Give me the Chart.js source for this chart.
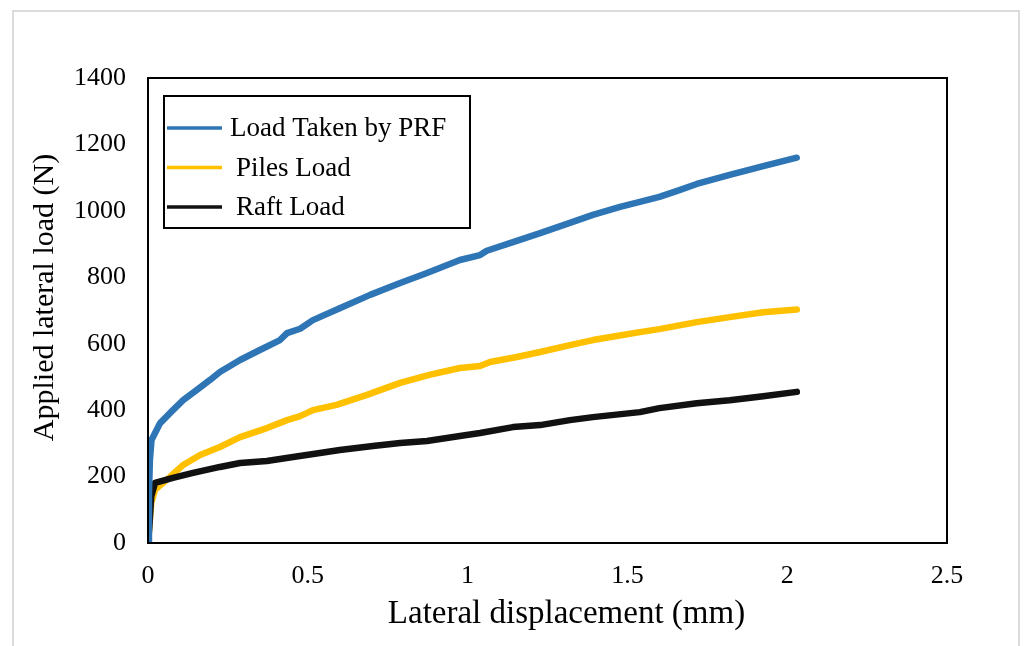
<!DOCTYPE html>
<html>
<head>
<meta charset="utf-8">
<script src="https://cdn.jsdelivr.net/npm/chart.js@4.4.0/dist/chart.umd.min.js"></script>
<style>
  html, body { margin: 0; padding: 0; background: #fff; overflow: hidden; }
  #frame { position: absolute; left: 12px; top: 10px; width: 1008px; height: 700px; border: 2px solid #dcdcdc; box-sizing: border-box; }
  #wrap { position: absolute; left: 0; top: 0; width: 1024px; height: 646px; }
</style>
</head>
<body>
<div id="frame"></div>
<div id="wrap"><canvas id="chart" width="1024" height="646"></canvas></div>
<script>
// --- Data ---
const seriesNames = ['Load Taken by PRF', 'Piles Load', 'Raft Load'];
const seriesColors = ['#2e75b6', '#ffc000', '#111111'];

// Load Taken by PRF
const prfX = [0, 0.003, 0.006, 0.011, 0.038, 0.078, 0.11, 0.153, 0.194, 0.225, 0.288, 0.35, 0.413, 0.435, 0.476, 0.516, 0.60, 0.695, 0.789, 0.873, 0.976, 1.039, 1.06, 1.142, 1.227, 1.32, 1.392, 1.477, 1.539, 1.60, 1.665, 1.717, 1.82, 1.925, 2.03];
const prfY = [0, 150, 250, 310, 361, 400, 430, 461, 491, 515, 551, 581, 611, 632, 645, 671, 707, 747, 783, 813, 852, 867, 880, 906, 933, 964, 988, 1012, 1027, 1042, 1063, 1081, 1108, 1135, 1160];

// Piles Load
const pilesX = [0, 0.005, 0.01, 0.022, 0.069, 0.11, 0.163, 0.225, 0.288, 0.372, 0.435, 0.476, 0.516, 0.59, 0.685, 0.789, 0.88, 0.976, 1.039, 1.07, 1.154, 1.227, 1.32, 1.392, 1.467, 1.539, 1.60, 1.717, 1.82, 1.925, 2.03];
const pilesY = [0, 60, 120, 160, 199, 235, 265, 289, 319, 346, 370, 382, 400, 416, 446, 482, 506, 527, 533, 545, 560, 575, 596, 611, 623, 635, 644, 665, 680, 695, 703];

// Raft Load
const raftX = [0, 0.005, 0.01, 0.022, 0.078, 0.141, 0.225, 0.288, 0.372, 0.454, 0.538, 0.60, 0.704, 0.789, 0.873, 0.976, 1.039, 1.142, 1.227, 1.32, 1.392, 1.539, 1.60, 1.717, 1.82, 1.925, 2.03];
const raftY = [0, 60, 140, 181, 196, 211, 229, 241, 247, 259, 271, 280, 292, 301, 307, 322, 331, 349, 355, 370, 379, 394, 406, 421, 430, 442, 455];

const xTitle = 'Lateral displacement (mm)';
const yTitle = 'Applied lateral load (N)';

const serif = "'Liberation Serif', 'Times New Roman', serif";

function toPoints(xs, ys) {
    return xs.map((x, i) => ({ x: x, y: ys[i] }));
}

// axis titles in the reference sit a bit off-centre from the plot,
// so nudge the scale edges the title is centred on (ticks are already placed)
const titleNudge = {
    id: 'titleNudge',
    beforeDraw(chart) {
        const a = chart.chartArea;
        chart.scales.x.right = a.right + 38;
        chart.scales.y.top = a.top - 26;
    }
};

// box around the plot area
const plotBorder = {
    id: 'plotBorder',
    afterDraw(chart) {
        const { ctx, chartArea: a } = chart;
        ctx.save();
        ctx.strokeStyle = '#000';
        ctx.lineWidth = 2;
        ctx.strokeRect(a.left, a.top, a.right - a.left, a.bottom - a.top);
        ctx.restore();
    }
};

// legend box inside the plot, top left
const boxLegend = {
    id: 'boxLegend',
    afterDraw(chart) {
        const ctx = chart.ctx;
        const left = 164, top = 96, w = 306, h = 132;
        ctx.save();
        ctx.fillStyle = '#fff';
        ctx.fillRect(left, top, w, h);
        ctx.strokeStyle = '#000';
        ctx.lineWidth = 2;
        ctx.strokeRect(left, top, w, h);
        ctx.font = '27px ' + serif;
        ctx.textBaseline = 'middle';
        ctx.fillStyle = '#000';
        chart.data.datasets.forEach((ds, i) => {
            const y = 128 + i * 39.5;
            ctx.strokeStyle = ds.borderColor;
            ctx.lineWidth = 3.5;
            ctx.beginPath();
            ctx.moveTo(167, y);
            ctx.lineTo(222, y);
            ctx.stroke();
            ctx.fillText(ds.label, i === 0 ? 230 : 236, y + 1);
        });
        ctx.restore();
    }
};

const datasets = [
    { label: seriesNames[0], data: toPoints(prfX, prfY), borderColor: seriesColors[0], order: 0 },
    { label: seriesNames[1], data: toPoints(pilesX, pilesY), borderColor: seriesColors[1], order: 2 },
    { label: seriesNames[2], data: toPoints(raftX, raftY), borderColor: seriesColors[2], order: 1 }
].map(d => Object.assign(d, {
    borderWidth: 6.5,
    pointRadius: 0,
    tension: 0,
    fill: false,
    borderCapStyle: 'round',
    borderJoinStyle: 'round'
}));

new Chart(document.getElementById('chart').getContext('2d'), {
    type: 'line',
    data: { datasets: datasets },
    options: {
        responsive: false,
        animation: false,
        layout: { padding: { left: 0, top: 78, right: 77, bottom: 0 } },
        plugins: {
            legend: { display: false },
            tooltip: { enabled: false }
        },
        scales: {
            x: {
                type: 'linear',
                min: 0,
                max: 2.5,
                ticks: { stepSize: 0.5, color: '#000', padding: 18, font: { family: serif, size: 26 }, callback: v => String(v) },
                grid: { display: false, drawTicks: false },
                border: { display: false },
                title: { display: true, text: xTitle, color: '#000', font: { family: serif, size: 33 }, padding: { top: 0, bottom: 12 } },
                afterFit(scale) { scale.height = 103; }
            },
            y: {
                min: 0,
                max: 1400,
                ticks: { stepSize: 200, color: '#000', padding: 22, font: { family: serif, size: 26 }, callback: v => String(v) },
                grid: { display: false, drawTicks: false },
                border: { display: false },
                title: { display: true, text: yTitle, color: '#000', font: { family: serif, size: 30 }, padding: { top: 27, bottom: 0 } },
                afterFit(scale) { scale.width = 148; }
            }
        }
    },
    plugins: [titleNudge, plotBorder, boxLegend]
});
</script>
</body>
</html>
